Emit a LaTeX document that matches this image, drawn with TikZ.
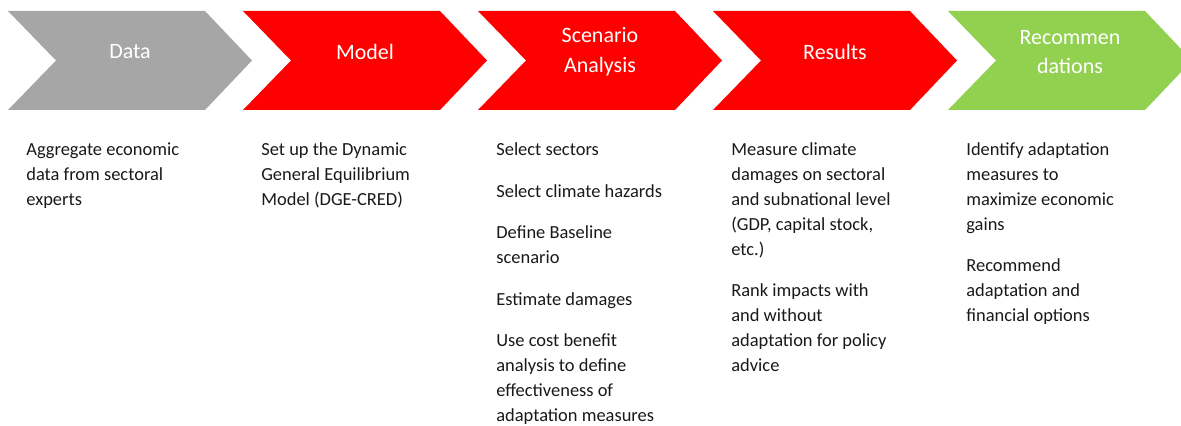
\documentclass[tikz,border=0pt]{standalone}
\usepackage{fontspec}
\setmainfont{Carlito}
\usepackage{tikz}
\definecolor{chgray}{HTML}{A6A6A6}
\definecolor{chred}{HTML}{FF0000}
\definecolor{chgreen}{HTML}{92D050}
\tikzstyle{head} = [text=white, align=center, inner sep=0pt, font=\fontsize{12.5}{17}\selectfont]
\tikzstyle{body} = [anchor=north west, align=left, inner sep=0pt, text=black!90, font=\fontsize{10.5}{14.2}\selectfont, execute at begin node=\strut]
\newcommand{\paragap}{\\[9.4pt]}

\begin{document}
\begin{tikzpicture}
    \useasboundingbox (0,0) rectangle (23.62,-8.52);
    %箭头形状
    \foreach \i/\col in {0/chgray, 1/chred, 2/chred, 3/chred, 4/chgreen}
        \fill[\col] ({0.16+4.7*\i},-0.22) -- ++(3.94,0) -- ++(0.94,-0.99) -- ++(-0.94,-0.99) -- ++(-3.94,0) -- ++(0.96,0.99) -- cycle;

    %标题
    \node (data) [head] at (2.60,-1.04) {Data};
    \node (model) [head] at (7.30,-1.04) {Model};
    \node (scen) [head] at (12.00,-1.04) {Scenario\\Analysis};
    \node (res) [head] at (16.70,-1.04) {Results};
    \node (rec) [head] at (21.40,-1.04) {Recommen\\dations};

    %说明文字
    \node (datatxt) [body] at (0.52,-2.85) {Aggregate economic\\data from sectoral\\experts};
    \node (modeltxt) [body] at (5.22,-2.85) {Set up the Dynamic\\General Equilibrium\\Model (DGE-CRED)};
    \node (scentxt) [body] at (9.92,-2.85) {Select sectors\paragap Select climate hazards\paragap Define Baseline\\scenario\paragap Estimate damages\paragap Use cost benefit\\analysis to define\\effectiveness of\\adaptation measures};
    \node (restxt) [body] at (14.62,-2.85) {Measure climate\\damages on sectoral\\and subnational level\\(GDP, capital stock,\\etc.)\paragap Rank impacts with\\and without\\adaptation for policy\\advice};
    \node (rectxt) [body] at (19.32,-2.85) {Identify adaptation\\measures to\\maximize economic\\gains\paragap Recommend\\adaptation and\\financial options};
\end{tikzpicture}
\end{document}
